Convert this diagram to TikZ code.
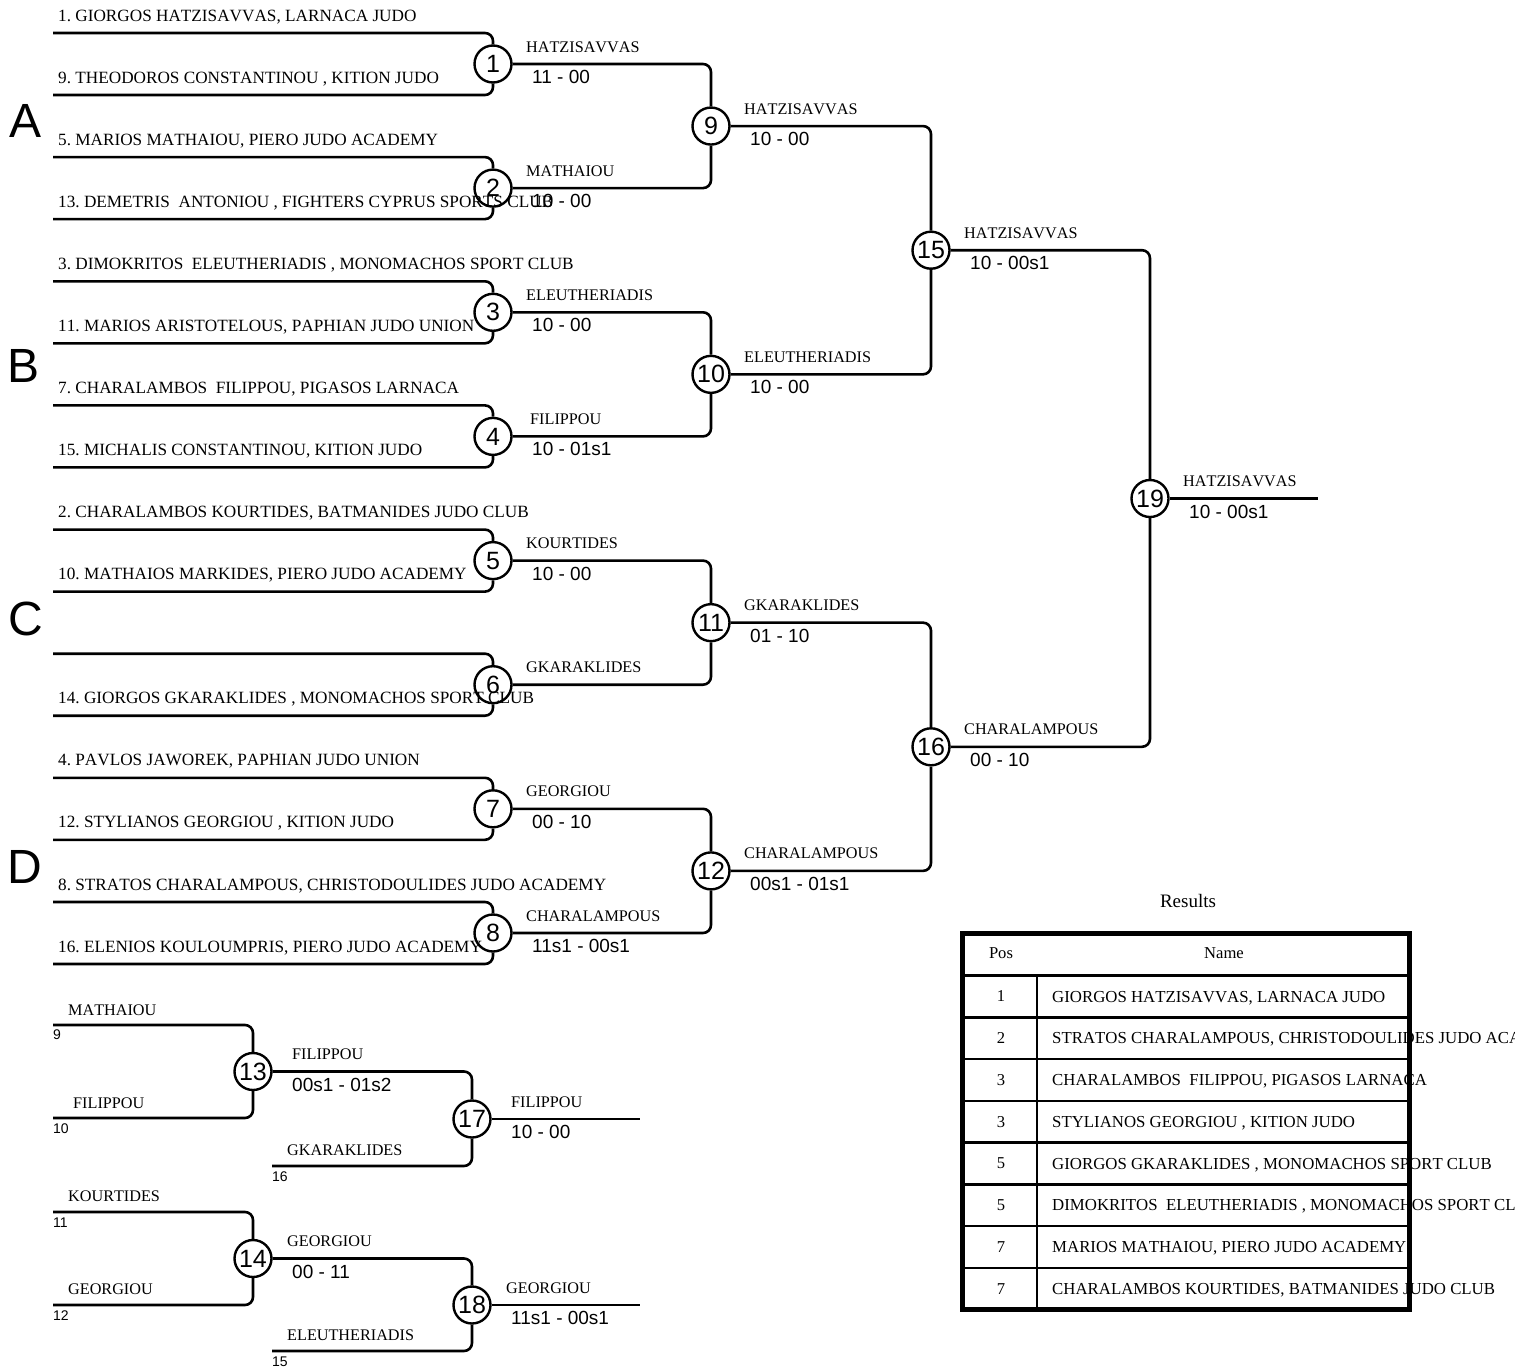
\documentclass[tikz,border=0pt]{standalone}
\usepackage{fontspec}
\setmainfont{Liberation Serif}[Kerning=Off]
\newfontfamily\arialf{Liberation Sans}
\frenchspacing
\tikzset{
  ln/.style={line width=2.6pt, rounded corners=8pt},
  circ/.style={circle, draw, line width=2.4pt, minimum size=37pt, inner sep=0pt, font=\arialf\fontsize{25}{25}\selectfont},
  pname/.style={anchor=base west, inner sep=0pt, font=\fontsize{17.2}{17}\selectfont},
  wname/.style={anchor=base west, inner sep=0pt, font=\fontsize{16.2}{16}\selectfont},
  score/.style={anchor=base west, inner sep=0pt, font=\arialf\fontsize{19}{19}\selectfont},
  seed/.style={anchor=north west, inner sep=0pt, font=\arialf\fontsize{14}{14}\selectfont},
  big/.style={inner sep=0pt, font=\arialf\fontsize{48}{48}\selectfont},
  tcell/.style={inner sep=0pt, font=\fontsize{16.6}{16.6}\selectfont},
  tname/.style={anchor=base west, inner sep=0pt, font=\fontsize{16.8}{17}\selectfont},
}
\newcommand\firstround[4]{%
  \node[circ] (m#1) at (493,#2) {#1};
  \draw[ln] (53,#2-31) -| (m#1.north);
  \draw[ln] (53,#2+31) -| (m#1.south);
  \node[pname] (p#1a) at (58,#2-43) {#3};
  \node[pname] (p#1b) at (58,#2+19) {#4};
}
\newcommand\winner[4]{%
  \node[wname] (wn#1) at ([shift={(#4,-12)}]m#1.center) {#2};
  \node[score] (ws#1) at ([shift={(39,19.5)}]m#1.center) {#3};
}
\newcommand\trow[3]{%
  \node[tcell] (tp#1) at (1001,975.5+41.75*#1-20.9) {#2};
  \node[tname] (tn#1) at (1052,975.5+41.75*#1-20.9+5.8) {#3};
}
\begin{document}
\begin{tikzpicture}[x=1pt,y=-1pt]
\useasboundingbox (0,0) rectangle (1515,1371);
\fill[white] (0,0) rectangle (1515,1371);

% first round
\firstround{1}{64}{1. GIORGOS HATZISAVVAS, LARNACA JUDO}{9. THEODOROS CONSTANTINOU , KITION JUDO}
\firstround{2}{188.1}{5. MARIOS MATHAIOU, PIERO JUDO ACADEMY}{13. DEMETRIS\ \ ANTONIOU , FIGHTERS CYPRUS SPORTS CLUB}
\firstround{3}{312.3}{3. DIMOKRITOS\ \ ELEUTHERIADIS , MONOMACHOS SPORT CLUB}{11. MARIOS ARISTOTELOUS, PAPHIAN JUDO UNION}
\firstround{4}{436.4}{7. CHARALAMBOS\ \ FILIPPOU, PIGASOS LARNACA}{15. MICHALIS CONSTANTINOU, KITION JUDO}
\firstround{5}{560.6}{2. CHARALAMBOS KOURTIDES, BATMANIDES JUDO CLUB}{10. MATHAIOS MARKIDES, PIERO JUDO ACADEMY}
\firstround{6}{684.7}{}{14. GIORGOS GKARAKLIDES , MONOMACHOS SPORT CLUB}
\firstround{7}{808.8}{4. PAVLOS JAWOREK, PAPHIAN JUDO UNION}{12. STYLIANOS GEORGIOU , KITION JUDO}
\firstround{8}{933}{8. STRATOS CHARALAMPOUS, CHRISTODOULIDES JUDO ACADEMY}{16. ELENIOS KOULOUMPRIS, PIERO JUDO ACADEMY}

% later rounds
\node[circ] (m9) at (711,126.05) {9};
\node[circ] (m10) at (711,374.35) {10};
\node[circ] (m11) at (711,622.65) {11};
\node[circ] (m12) at (711,870.9) {12};
\node[circ] (m15) at (931,250.2) {15};
\node[circ] (m16) at (931,746.8) {16};
\node[circ] (m19) at (1150,498.5) {19};
\coordinate (end19) at (1318,498.5);

\draw[ln] (m1.east) -| (m9.north);
\draw[ln] (m2.east) -| (m9.south);
\draw[ln] (m3.east) -| (m10.north);
\draw[ln] (m4.east) -| (m10.south);
\draw[ln] (m5.east) -| (m11.north);
\draw[ln] (m6.east) -| (m11.south);
\draw[ln] (m7.east) -| (m12.north);
\draw[ln] (m8.east) -| (m12.south);
\draw[ln] (m9.east) -| (m15.north);
\draw[ln] (m10.east) -| (m15.south);
\draw[ln] (m11.east) -| (m16.north);
\draw[ln] (m12.east) -| (m16.south);
\draw[ln] (m15.east) -| (m19.north);
\draw[ln] (m16.east) -| (m19.south);
\draw[ln] (m19.east) -- (end19);

\winner{1}{HATZISAVVAS}{11 - 00}{33}
\winner{2}{MATHAIOU}{10 - 00}{33}
\winner{3}{ELEUTHERIADIS}{10 - 00}{33}
\winner{4}{FILIPPOU}{10 - 01s1}{37}
\winner{5}{KOURTIDES}{10 - 00}{33}
\node[wname] (wn6) at ([shift={(33,-12)}]m6.center) {GKARAKLIDES};
\winner{7}{GEORGIOU}{00 - 10}{33}
\winner{8}{CHARALAMPOUS}{11s1 - 00s1}{33}
\winner{9}{HATZISAVVAS}{10 - 00}{33}
\winner{10}{ELEUTHERIADIS}{10 - 00}{33}
\winner{11}{GKARAKLIDES}{01 - 10}{33}
\winner{12}{CHARALAMPOUS}{00s1 - 01s1}{33}
\winner{15}{HATZISAVVAS}{10 - 00s1}{33}
\winner{16}{CHARALAMPOUS}{00 - 10}{33}
\winner{19}{HATZISAVVAS}{10 - 00s1}{33}

% pool letters
\node[big] (lA) at (26,121) {A};
\node[big] (lB) at (24,366) {B};
\node[big] (lC) at (26,619) {C};
\node[big] (lD) at (25,867) {D};

% repechage
\node[circ] (m13) at (253,1071.5) {13};
\node[circ] (m17) at (472,1119) {17};
\node[circ] (m14) at (253,1258.5) {14};
\node[circ] (m18) at (472,1305) {18};
\coordinate (end17) at (640,1119);
\coordinate (end18) at (640,1305);

\draw[ln] (53,1025) -| (m13.north);
\draw[ln] (53,1118) -| (m13.south);
\draw[ln] (m13.east) -| (m17.north);
\draw[ln] (272,1166) -| (m17.south);
\draw[ln] (m17.east) -- (end17);
\draw[ln] (53,1212) -| (m14.north);
\draw[ln] (53,1305) -| (m14.south);
\draw[ln] (m14.east) -| (m18.north);
\draw[ln] (272,1351) -| (m18.south);
\draw[ln] (m18.east) -- (end18);

\node[wname] (r13a) at (68,1015) {MATHAIOU};
\node[seed] (s13a) at (53,1030) {9};
\node[wname] (r13b) at (73,1108) {FILIPPOU};
\node[seed] (s13b) at (53,1124) {10};
\node[wname] (r17b) at (287,1155) {GKARAKLIDES};
\node[seed] (s17b) at (272,1172) {16};
\node[wname] (r14a) at (68,1201) {KOURTIDES};
\node[seed] (s14a) at (53,1218) {11};
\node[wname] (r14b) at (68,1294) {GEORGIOU};
\node[seed] (s14b) at (53,1311) {12};
\node[wname] (r18b) at (287,1340) {ELEUTHERIADIS};
\node[seed] (s18b) at (272,1357) {15};

\winner{13}{FILIPPOU}{00s1 - 01s2}{39}
\winner{14}{GEORGIOU}{00 - 11}{34}
\winner{17}{FILIPPOU}{10 - 00}{39}
\winner{18}{GEORGIOU}{11s1 - 00s1}{34}

% results table
\node[tcell, font=\fontsize{19}{19}\selectfont] (res) at (1188,901) {Results};
\foreach \k in {0,...,7} {
  \draw[line width=2.5pt] (962.5,975.5+41.75*\k) -- (1409,975.5+41.75*\k);
}
\draw[line width=2.5pt] (1037,975.5) -- (1037,1309.5);
\node[tcell] (hpos) at (1001,953) {Pos};
\node[tcell] (hname) at (1224,953) {Name};
\trow{1}{1}{GIORGOS HATZISAVVAS, LARNACA JUDO}
\trow{2}{2}{STRATOS CHARALAMPOUS, CHRISTODOULIDES JUDO ACADEMY}
\trow{3}{3}{CHARALAMBOS\ \ FILIPPOU, PIGASOS LARNACA}
\trow{4}{3}{STYLIANOS GEORGIOU , KITION JUDO}
\trow{5}{5}{GIORGOS GKARAKLIDES , MONOMACHOS SPORT CLUB}
\trow{6}{5}{DIMOKRITOS\ \ ELEUTHERIADIS , MONOMACHOS SPORT CLUB}
\trow{7}{7}{MARIOS MATHAIOU, PIERO JUDO ACADEMY}
\trow{8}{7}{CHARALAMBOS KOURTIDES, BATMANIDES JUDO CLUB}
\draw[line width=5pt] (962.5,933.5) rectangle (1409,1309.5);
\end{tikzpicture}
\end{document}
